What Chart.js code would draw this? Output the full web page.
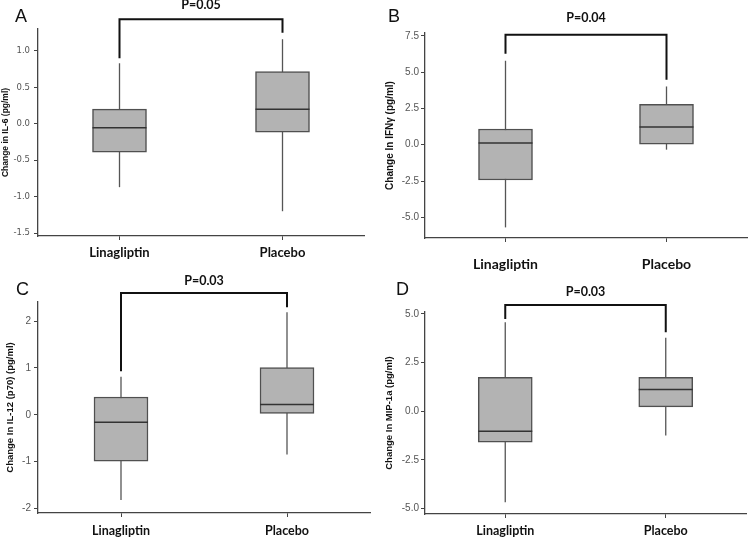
<!DOCTYPE html>
<html>
<head>
<meta charset="utf-8">
<script src="https://cdn.jsdelivr.net/npm/chart.js@4.4.1/dist/chart.umd.min.js"></script>
<style>
  html, body { margin: 0; padding: 0; background: #fff; }
  #wrap { position: relative; width: 750px; height: 538px; overflow: hidden; }
  .panel { position: absolute; }
  .letter { position: absolute; font-family: "Liberation Sans", Arial, sans-serif; font-size: 18px; line-height: 18px; color: #111; }
</style>
</head>
<body>
<div id="wrap">
  <div class="panel" style="left:0;top:0;width:375px;height:269px"><canvas id="cA"></canvas></div>
  <div class="panel" style="left:375px;top:0;width:375px;height:278px"><canvas id="cB"></canvas></div>
  <div class="panel" style="left:0;top:269px;width:375px;height:269px"><canvas id="cC"></canvas></div>
  <div class="panel" style="left:375px;top:269px;width:375px;height:269px"><canvas id="cD"></canvas></div>
  <div class="letter" style="left:15px;top:7px">A</div>
  <div class="letter" style="left:388px;top:7px">B</div>
  <div class="letter" style="left:16px;top:280px">C</div>
  <div class="letter" style="left:396px;top:280px">D</div>
</div>
<script>
const categories = ['Linagliptin', 'Placebo'];

// A: IL-6
const il6Low = [-0.87, -1.20];
const il6Q1 = [-0.39, -0.115];
const il6Median = [-0.055, 0.20];
const il6Q3 = [0.20, 0.715];
const il6High = [0.83, 1.16];
const il6Ticks = [-1.5, -1.0, -0.5, 0.0, 0.5, 1.0];

// B: IFNγ
const ifnLow = [-5.69, -0.34];
const ifnQ1 = [-2.43, 0.0];
const ifnMedian = [0.12, 1.22];
const ifnQ3 = [1.08, 2.78];
const ifnHigh = [5.78, 4.01];
const ifnTicks = [-5.0, -2.5, 0.0, 2.5, 5.0, 7.5];

// C: IL-12 (p70)
const il12Low = [-1.82, -0.85];
const il12Q1 = [-0.99, 0.03];
const il12Median = [-0.16, 0.22];
const il12Q3 = [0.38, 1.01];
const il12High = [0.81, 2.19];
const il12Ticks = [-2, -1, 0, 1, 2];

// D: MIP-1a
const mipLow = [-4.68, -1.25];
const mipQ1 = [-1.59, 0.22];
const mipMedian = [-1.03, 1.11];
const mipQ3 = [1.74, 1.74];
const mipHigh = [4.57, 3.77];
const mipTicks = [-5.0, -2.5, 0.0, 2.5, 5.0];

// significance brackets: [top, left leg end, right leg end] in data units
const pLabels = ['P=0.05', 'P=0.04', 'P=0.03', 'P=0.03'];
const il6Bracket = [1.435, 0.90, 1.25];
const ifnBracket = [7.57, 6.26, 4.47];
const il12Bracket = [2.60, 0.93, 2.30];
const mipBracket = [5.46, 4.74, 4.06];

const boxPlugin = {
  id: 'boxparts',
  beforeDatasetsDraw(chart) {
    const { ctx, scales: { y } } = chart;
    const cfg = chart.options.plugins.boxparts;
    const meta = chart.getDatasetMeta(0);
    ctx.save();
    ctx.strokeStyle = '#555';
    ctx.lineWidth = 1.3;
    meta.data.forEach((bar, i) => {
      ctx.beginPath();
      ctx.moveTo(bar.x, y.getPixelForValue(cfg.low[i]));
      ctx.lineTo(bar.x, y.getPixelForValue(cfg.high[i]));
      ctx.stroke();
    });
    ctx.restore();
  },
  afterDatasetsDraw(chart) {
    const { ctx, scales: { y } } = chart;
    const cfg = chart.options.plugins.boxparts;
    const meta = chart.getDatasetMeta(0);
    ctx.save();
    ctx.strokeStyle = '#333';
    ctx.lineWidth = 1.5;
    meta.data.forEach((bar, i) => {
      const yy = y.getPixelForValue(cfg.median[i]);
      ctx.beginPath();
      ctx.moveTo(bar.x - bar.width / 2, yy);
      ctx.lineTo(bar.x + bar.width / 2, yy);
      ctx.stroke();
    });
    // bracket
    const x1 = meta.data[0].x, x2 = meta.data[1].x;
    const top = y.getPixelForValue(cfg.bracket[0]);
    ctx.strokeStyle = '#111';
    ctx.lineWidth = 2;
    ctx.beginPath();
    ctx.moveTo(x1, y.getPixelForValue(cfg.bracket[1]));
    ctx.lineTo(x1, top);
    ctx.lineTo(x2, top);
    ctx.lineTo(x2, y.getPixelForValue(cfg.bracket[2]));
    ctx.stroke();
    ctx.fillStyle = '#111';
    ctx.font = 'bold 12.5px Lato, "Liberation Sans", sans-serif';
    ctx.textAlign = 'center';
    ctx.textBaseline = 'middle';
    ctx.fillText(cfg.p, (x1 + x2) / 2, top - cfg.pOffset);
    ctx.restore();
  }
};

function makePanel(id, p) {
  const boxes = p.q1.map((v, i) => [v, p.q3[i]]);
  new Chart(document.getElementById(id), {
    type: 'bar',
    data: {
      labels: categories,
      datasets: [{
        data: boxes,
        backgroundColor: '#b3b3b3',
        borderColor: '#505050',
        borderWidth: 1.5,
        borderSkipped: false,
        barThickness: 54
      }]
    },
    options: {
      responsive: true,
      maintainAspectRatio: false,
      animation: false,
      layout: { padding: { top: p.top, right: p.right, left: 0, bottom: 0 } },
      plugins: {
        legend: { display: false },
        tooltip: { enabled: false },
        boxparts: {
          low: p.low, high: p.high, median: p.median,
          bracket: p.bracket, p: p.pLabel, pOffset: p.pOffset
        }
      },
      scales: {
        x: {
          offset: true,
          grid: { display: true, offset: false, drawOnChartArea: false, drawTicks: true, tickLength: 4, color: '#444' },
          border: { display: true, color: '#444', width: 1.3 },
          ticks: {
            color: '#111',
            padding: p.xPad,
            font: { family: 'Lato, "Liberation Sans", sans-serif', size: p.xSize, weight: 'bold' }
          },
          afterFit(scale) { scale.height = p.xHeight; }
        },
        y: {
          min: p.min,
          max: p.max,
          grid: { display: true, drawOnChartArea: false, drawTicks: true, tickLength: 4, color: '#444' },
          border: { display: true, color: '#444', width: 1.3 },
          afterBuildTicks(scale) { scale.ticks = p.ticks.map(v => ({ value: v })); },
          ticks: {
            color: '#555',
            padding: p.tickPad,
            font: { family: p.tickFamily, size: p.tickSize },
            callback: (v) => p.decimals ? Number(v).toFixed(1) : String(v)
          },
          title: {
            display: true,
            text: p.title,
            color: '#111',
            padding: { top: p.titlePad, bottom: 0 },
            font: { family: '"Liberation Sans", Arial, sans-serif', size: p.titleSize, weight: 'bold' }
          },
          afterFit(scale) { scale.width = p.left; }
        }
      }
    },
    plugins: [boxPlugin]
  });
}

makePanel('cA', {
  low: il6Low, q1: il6Q1, median: il6Median, q3: il6Q3, high: il6High, ticks: il6Ticks,
  bracket: il6Bracket, pLabel: pLabels[0], pOffset: 14,
  min: -1.54, max: 1.30, decimals: true,
  top: 29, right: 11, left: 38, xHeight: 33, xPad: 5, xSize: 13,
  tickFamily: '"DejaVu Sans", sans-serif', tickSize: 8.5, tickPad: 4,
  title: 'Change in IL-6 (pg/ml)', titleSize: 8.5, titlePad: 1
});

makePanel('cB', {
  low: ifnLow, q1: ifnQ1, median: ifnMedian, q3: ifnQ3, high: ifnHigh, ticks: ifnTicks,
  bracket: ifnBracket, pLabel: pLabels[1], pOffset: 17,
  min: -6.42, max: 7.69, decimals: true,
  top: 33, right: 3, left: 50, xHeight: 40, xPad: 14, xSize: 14,
  tickFamily: '"Liberation Sans", Arial, sans-serif', tickSize: 10, tickPad: 2,
  title: 'Change In IFNγ (pg/ml)', titleSize: 10, titlePad: 9
});

makePanel('cC', {
  low: il12Low, q1: il12Q1, median: il12Median, q3: il12Q3, high: il12High, ticks: il12Ticks,
  bracket: il12Bracket, pLabel: pLabels[2], pOffset: 12.6,
  min: -2.10, max: 2.41, decimals: false,
  top: 33, right: 5, left: 38, xHeight: 25, xPad: 6, xSize: 12.5,
  tickFamily: '"Liberation Sans", Arial, sans-serif', tickSize: 10, tickPad: 3,
  title: 'Change In IL-12 (p70) (pg/ml)', titleSize: 9.5, titlePad: 5
});

makePanel('cD', {
  low: mipLow, q1: mipQ1, median: mipMedian, q3: mipQ3, high: mipHigh, ticks: mipTicks,
  bracket: mipBracket, pLabel: pLabels[3], pOffset: 12.7,
  min: -5.29, max: 5.10, decimals: true,
  top: 43, right: 4, left: 50, xHeight: 24, xPad: 5, xSize: 12.5,
  tickFamily: '"Liberation Sans", Arial, sans-serif', tickSize: 10, tickPad: 2,
  title: 'Change In MIP-1a (pg/ml)', titleSize: 9.5, titlePad: 9
});
</script>
</body>
</html>
